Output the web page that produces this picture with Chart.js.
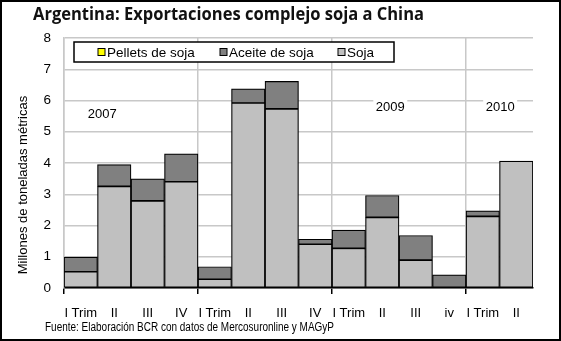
<!DOCTYPE html>
<html><head><meta charset="utf-8">
<script src="https://cdn.jsdelivr.net/npm/chart.js@4"></script>
<style>html,body{margin:0;padding:0;background:#fff;} canvas{display:block}</style>
</head><body>
<canvas id="c" width="561" height="341"></canvas>
<script>
// ---- data ----
const categories = ["I Trim","II","III","IV","I Trim","II","III","IV","I Trim","II","III","iv","I Trim","II"];
const soja    = [0.52, 3.25, 2.79, 3.40, 0.28, 5.92, 5.73, 1.40, 1.27, 2.26, 0.89, 0.00, 2.29, 4.06];
const aceite  = [0.47, 0.70, 0.70, 0.89, 0.40, 0.45, 0.88, 0.16, 0.58, 0.70, 0.79, 0.42, 0.18, 0.00];
const pellets = [0, 0, 0, 0, 0, 0, 0, 0, 0, 0, 0, 0, 0, 0];
const seriesNames = ["Pellets de soja", "Aceite de soja", "Soja"];
const yearLabels = ["2007", "2009", "2010"];
const titleText = "Argentina: Exportaciones complejo soja a China";
const yTitleText = "Millones de toneladas métricas";
const sourceText = "Fuente: Elaboración BCR con datos de Mercosuronline y MAGyP";

const COL = { pellets: "#ffff00", aceite: "#808080", soja: "#c0c0c0" };
const FONT = "'Liberation Sans', Arial, sans-serif";
const GRID = "#c8c8c8";

function fitText(ctx, text, x, y, width, size, weight, family) {
  ctx.save();
  ctx.font = `${weight} ${size}px ${family}`;
  const w = ctx.measureText(text).width;
  ctx.translate(x, y);
  ctx.scale(width / w, 1);
  ctx.fillText(text, 0, 0);
  ctx.restore();
}

const decor = {
  id: "decor",
  afterDraw(chart, args, opts) {
    const ctx = chart.ctx;
    const xs = chart.scales.x, ys = chart.scales.y;
    ctx.save();
    // year labels with white background
    ctx.font = `13px ${FONT}`;
    ctx.textAlign = "center";
    ctx.textBaseline = "middle";
    opts.yearAnchors.forEach((a, i) => {
      const px = xs.getPixelForValue(a[0]);
      const py = ys.getPixelForValue(a[1]);
      ctx.fillStyle = "#fff";
      ctx.fillRect(px - 17, py - 9, 34, 18);
      ctx.fillStyle = "#000";
      ctx.fillText(yearLabels[i], px, py);
    });
    // legend box
    const L = opts.legendBox;
    ctx.fillStyle = "#fff";
    ctx.fillRect(L.x, L.y, L.w, L.h);
    ctx.lineWidth = 1.5;
    ctx.strokeStyle = "#000";
    ctx.strokeRect(L.x, L.y, L.w, L.h);
    const cols = [COL.pellets, COL.aceite, COL.soja];
    ctx.textAlign = "left";
    ctx.font = `13.5px ${FONT}`;
    seriesNames.forEach((n, i) => {
      const sx = L.items[i];
      const cy = L.y + L.h / 2;
      ctx.fillStyle = cols[i];
      ctx.fillRect(sx, cy - 3.5, 7, 7);
      ctx.lineWidth = 1;
      ctx.strokeRect(sx, cy - 3.5, 7, 7);
      ctx.fillStyle = "#000";
      ctx.fillText(n, sx + 9, cy + 1);
    });
    // title
    ctx.fillStyle = "#111";
    ctx.textBaseline = "alphabetic";
    fitText(ctx, titleText, 33, 20, 391, 18, "bold", "'Open Sans', Lato, sans-serif");
    // y title
    ctx.save();
    ctx.translate(23, 185);
    ctx.rotate(-Math.PI / 2);
    ctx.textAlign = "center";
    ctx.textBaseline = "middle";
    ctx.font = `13px ${FONT}`;
    ctx.fillStyle = "#000";
    ctx.fillText(yTitleText, 0, 0);
    ctx.restore();
    // source
    ctx.textAlign = "left";
    ctx.textBaseline = "alphabetic";
    ctx.fillStyle = "#000";
    fitText(ctx, sourceText, 45, 331, 289, 12, "normal", FONT);
    // frame
    ctx.lineWidth = 2;
    ctx.strokeStyle = "#000";
    ctx.strokeRect(1, 1, 559, 339);
    ctx.restore();
  }
};

const nz = arr => arr.map(v => (v ? v : null));

new Chart(document.getElementById("c"), {
  type: "bar",
  data: {
    labels: categories,
    datasets: [
      { label: seriesNames[2], data: nz(soja), backgroundColor: COL.soja },
      { label: seriesNames[1], data: nz(aceite), backgroundColor: COL.aceite },
      { label: seriesNames[0], data: nz(pellets), backgroundColor: COL.pellets }
    ].map(d => Object.assign(d, {
      borderColor: "#000", borderWidth: 1.2, borderSkipped: false,
      barPercentage: 1, categoryPercentage: 1
    }))
  },
  options: {
    responsive: false,
    devicePixelRatio: 1,
    animation: false,
    layout: { padding: { top: 38, right: 28, left: 0, bottom: 0 } },
    plugins: {
      legend: { display: false },
      tooltip: { enabled: false },
      decor: {
        yearAnchors: [[0.64, 5.55], [9.24, 5.78], [12.52, 5.78]],
        legendBox: { x: 74, y: 42, w: 320, h: 20, items: [98, 220, 338] }
      }
    },
    scales: {
      x: {
        stacked: true,
        afterFit: s => { s.height = 53; },
        border: { color: "#000", width: 1.5 },
        grid: {
          offset: true,
          lineWidth: 1.5,
          tickLength: 6,
          color: c => (c.index % 4 === 0 || c.index === categories.length) ? GRID : "rgba(0,0,0,0)",
          tickColor: c => (c.index % 4 === 0 && c.index < categories.length) ? "#000" : "rgba(0,0,0,0)"
        },
        ticks: {
          autoSkip: false, maxRotation: 0, padding: 12,
          color: "#000", font: { family: FONT, size: 13 }
        }
      },
      y: {
        stacked: true,
        min: 0, max: 8,
        afterFit: s => { s.width = 64; },
        border: { color: GRID, width: 1.5 },
        grid: { color: GRID, lineWidth: 1.5, drawTicks: false },
        ticks: {
          stepSize: 1, padding: 13,
          color: "#000", font: { family: FONT, size: 13.5 }
        }
      }
    }
  },
  plugins: [decor]
});
</script>
</body></html>
